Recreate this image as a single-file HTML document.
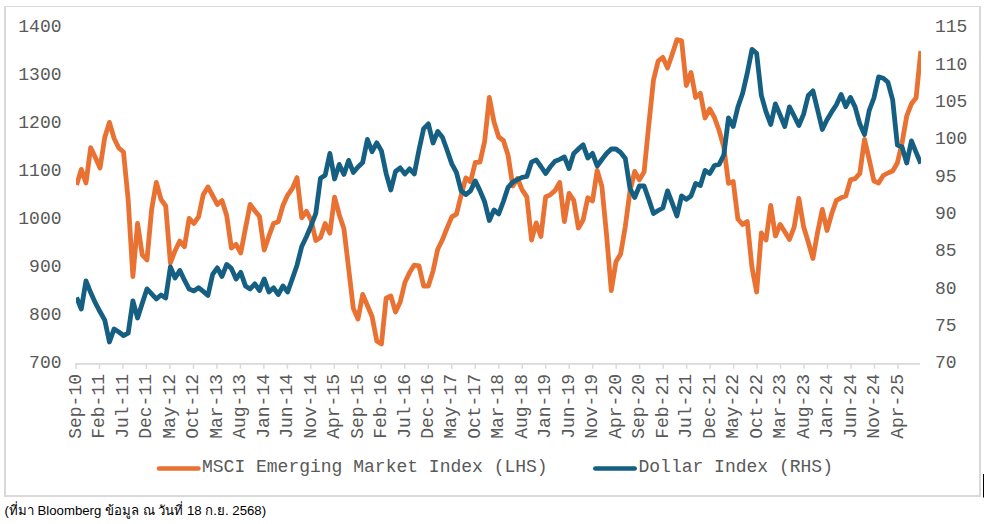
<!DOCTYPE html>
<html><head><meta charset="utf-8"><style>
html,body{margin:0;padding:0;background:#fff;width:986px;height:524px;overflow:hidden}
svg{position:absolute;left:0;top:0}
svg text{font-family:"Liberation Mono",monospace;font-size:18px;fill:#595959}
.note{position:absolute;left:4.5px;top:501.3px;font-family:"Liberation Sans",sans-serif;font-size:13.2px;color:#000;white-space:nowrap;line-height:20px}
</style></head><body>
<svg width="986" height="524" viewBox="0 0 986 524">
<defs><clipPath id="pa"><rect x="76" y="0" width="845" height="400"/></clipPath></defs>
<path d="M4,6H981V497H4Z M6,7H979V495H6Z" fill="#D9D9D9" fill-rule="evenodd"/>
<path d="M75.2,363.9H920.1" stroke="#D9D9D9" stroke-width="1.7" fill="none"/>
<path d="M76.00,363.9V368.8M99.49,363.9V368.8M122.97,363.9V368.8M146.46,363.9V368.8M169.94,363.9V368.8M193.43,363.9V368.8M216.92,363.9V368.8M240.40,363.9V368.8M263.89,363.9V368.8M287.37,363.9V368.8M310.86,363.9V368.8M334.35,363.9V368.8M357.83,363.9V368.8M381.32,363.9V368.8M404.80,363.9V368.8M428.29,363.9V368.8M451.78,363.9V368.8M475.26,363.9V368.8M498.75,363.9V368.8M522.23,363.9V368.8M545.72,363.9V368.8M569.21,363.9V368.8M592.69,363.9V368.8M616.18,363.9V368.8M639.66,363.9V368.8M663.15,363.9V368.8M686.64,363.9V368.8M710.12,363.9V368.8M733.61,363.9V368.8M757.09,363.9V368.8M780.58,363.9V368.8M804.07,363.9V368.8M827.55,363.9V368.8M851.04,363.9V368.8M874.52,363.9V368.8M898.01,363.9V368.8" stroke="#D9D9D9" stroke-width="1.5" fill="none"/>
<text x="61.5" y="31.80" text-anchor="end">1400</text>
<text x="61.5" y="79.80" text-anchor="end">1300</text>
<text x="61.5" y="127.80" text-anchor="end">1200</text>
<text x="61.5" y="175.80" text-anchor="end">1100</text>
<text x="61.5" y="223.80" text-anchor="end">1000</text>
<text x="61.5" y="271.80" text-anchor="end">900</text>
<text x="61.5" y="319.80" text-anchor="end">800</text>
<text x="61.5" y="367.80" text-anchor="end">700</text>
<text x="935" y="32.30">115</text>
<text x="935" y="69.63">110</text>
<text x="935" y="106.97">105</text>
<text x="935" y="144.30">100</text>
<text x="935" y="181.63">95</text>
<text x="935" y="218.96">90</text>
<text x="935" y="256.30">85</text>
<text x="935" y="293.63">80</text>
<text x="935" y="330.96">75</text>
<text x="935" y="368.30">70</text>
<text transform="translate(80.70,374) rotate(-90)" text-anchor="end">Sep-10</text>
<text transform="translate(104.19,374) rotate(-90)" text-anchor="end">Feb-11</text>
<text transform="translate(127.67,374) rotate(-90)" text-anchor="end">Jul-11</text>
<text transform="translate(151.16,374) rotate(-90)" text-anchor="end">Dec-11</text>
<text transform="translate(174.64,374) rotate(-90)" text-anchor="end">May-12</text>
<text transform="translate(198.13,374) rotate(-90)" text-anchor="end">Oct-12</text>
<text transform="translate(221.62,374) rotate(-90)" text-anchor="end">Mar-13</text>
<text transform="translate(245.10,374) rotate(-90)" text-anchor="end">Aug-13</text>
<text transform="translate(268.59,374) rotate(-90)" text-anchor="end">Jan-14</text>
<text transform="translate(292.07,374) rotate(-90)" text-anchor="end">Jun-14</text>
<text transform="translate(315.56,374) rotate(-90)" text-anchor="end">Nov-14</text>
<text transform="translate(339.05,374) rotate(-90)" text-anchor="end">Apr-15</text>
<text transform="translate(362.53,374) rotate(-90)" text-anchor="end">Sep-15</text>
<text transform="translate(386.02,374) rotate(-90)" text-anchor="end">Feb-16</text>
<text transform="translate(409.50,374) rotate(-90)" text-anchor="end">Jul-16</text>
<text transform="translate(432.99,374) rotate(-90)" text-anchor="end">Dec-16</text>
<text transform="translate(456.48,374) rotate(-90)" text-anchor="end">May-17</text>
<text transform="translate(479.96,374) rotate(-90)" text-anchor="end">Oct-17</text>
<text transform="translate(503.45,374) rotate(-90)" text-anchor="end">Mar-18</text>
<text transform="translate(526.93,374) rotate(-90)" text-anchor="end">Aug-18</text>
<text transform="translate(550.42,374) rotate(-90)" text-anchor="end">Jan-19</text>
<text transform="translate(573.91,374) rotate(-90)" text-anchor="end">Jun-19</text>
<text transform="translate(597.39,374) rotate(-90)" text-anchor="end">Nov-19</text>
<text transform="translate(620.88,374) rotate(-90)" text-anchor="end">Apr-20</text>
<text transform="translate(644.36,374) rotate(-90)" text-anchor="end">Sep-20</text>
<text transform="translate(667.85,374) rotate(-90)" text-anchor="end">Feb-21</text>
<text transform="translate(691.34,374) rotate(-90)" text-anchor="end">Jul-21</text>
<text transform="translate(714.82,374) rotate(-90)" text-anchor="end">Dec-21</text>
<text transform="translate(738.31,374) rotate(-90)" text-anchor="end">May-22</text>
<text transform="translate(761.79,374) rotate(-90)" text-anchor="end">Oct-22</text>
<text transform="translate(785.28,374) rotate(-90)" text-anchor="end">Mar-23</text>
<text transform="translate(808.77,374) rotate(-90)" text-anchor="end">Aug-23</text>
<text transform="translate(832.25,374) rotate(-90)" text-anchor="end">Jan-24</text>
<text transform="translate(855.74,374) rotate(-90)" text-anchor="end">Jun-24</text>
<text transform="translate(879.22,374) rotate(-90)" text-anchor="end">Nov-24</text>
<text transform="translate(902.71,374) rotate(-90)" text-anchor="end">Apr-25</text>
<g clip-path="url(#pa)" fill="none" stroke-width="4.8" stroke-linejoin="round" stroke-linecap="butt">
<polyline points="76.60,185.0 81.29,169.4 85.98,183.0 90.67,147.6 95.36,157.5 100.05,168.0 104.74,137.5 109.43,122.4 114.12,138.5 118.81,148.0 123.50,152.0 128.19,200.0 132.88,276.5 137.57,223.4 142.26,254.9 146.95,260.0 151.64,209.5 156.33,182.4 161.02,199.3 165.71,206.0 170.40,263.0 175.09,250.7 179.78,241.1 184.47,246.7 189.16,218.4 193.85,223.5 198.54,216.9 203.23,194.8 207.92,186.9 212.61,195.5 217.30,204.5 221.99,200.5 226.68,215.5 231.37,248.0 236.06,244.4 240.75,253.0 245.44,228.5 250.13,204.4 254.82,210.7 259.51,216.5 264.20,250.0 268.89,236.2 273.58,223.4 278.27,221.7 282.96,205.5 287.65,195.1 292.34,188.5 297.03,177.6 301.72,217.8 306.41,211.3 311.10,220.1 315.79,240.5 320.48,237.4 325.17,223.5 329.86,233.2 334.55,197.2 339.24,214.7 343.93,228.8 348.62,268.2 353.31,308.4 358.00,319.0 362.69,294.4 367.38,305.5 372.07,316.5 376.76,340.9 381.45,344.0 386.14,298.1 390.83,295.9 395.52,312.0 400.21,302.0 404.90,282.5 409.59,272.6 414.28,265.1 418.97,265.9 423.66,286.0 428.35,286.0 433.04,271.1 437.73,249.2 442.42,239.8 447.11,227.9 451.80,216.9 456.49,214.1 461.18,195.0 465.87,177.9 470.56,181.8 475.25,162.5 479.94,162.2 484.63,141.5 489.32,97.4 494.01,122.0 498.70,137.0 503.39,140.5 508.08,155.2 512.77,186.0 517.46,178.4 522.15,189.8 526.84,196.8 531.53,240.0 536.22,222.9 540.91,236.5 545.60,197.0 550.29,194.8 554.98,190.6 559.67,182.4 564.36,221.5 569.05,193.4 573.74,200.3 578.43,228.0 583.12,220.0 587.81,197.8 592.50,201.0 597.19,170.4 601.88,186.4 606.57,235.1 611.26,290.5 615.95,261.8 620.64,253.9 625.33,226.3 630.02,190.9 634.71,171.4 639.40,179.9 644.09,171.9 648.78,125.0 653.47,80.0 658.16,61.2 662.85,57.4 667.54,68.0 672.23,54.2 676.92,39.7 681.61,40.8 686.30,85.5 690.99,72.4 695.68,97.5 700.37,93.4 705.06,118.0 709.75,108.9 714.44,117.5 719.13,130.5 723.82,147.0 728.51,183.4 733.20,181.4 737.89,219.0 742.58,224.5 747.27,221.5 751.96,267.3 756.65,292.0 761.34,233.0 766.03,240.0 770.72,205.4 775.41,236.0 780.10,224.4 784.79,231.8 789.48,239.5 794.17,227.2 798.86,198.4 803.55,226.5 808.24,242.0 812.93,258.5 817.62,232.2 822.31,209.4 827.00,230.5 831.69,213.8 836.38,200.4 841.07,197.8 845.76,196.1 850.45,179.9 855.14,178.7 859.83,173.4 864.52,139.4 869.21,159.5 873.90,181.0 878.59,183.0 883.28,175.5 887.97,173.0 892.66,171.0 897.35,163.0 902.04,143.0 906.73,116.0 911.42,103.8 916.11,97.7 920.80,51.0" stroke="#E97132"/>
<polyline points="76.60,297.5 81.29,309.0 85.98,280.9 90.67,292.6 95.36,302.9 100.05,311.8 104.74,320.1 109.43,342.0 114.12,328.9 118.81,332.0 123.50,335.5 128.19,333.1 132.88,300.9 137.57,318.0 142.26,303.3 146.95,288.9 151.64,293.8 156.33,299.0 161.02,295.0 165.71,298.0 170.40,266.9 175.09,278.0 179.78,270.4 184.47,280.2 189.16,289.1 193.85,290.9 198.54,287.7 203.23,291.4 207.92,295.5 212.61,274.4 217.30,267.9 221.99,276.5 226.68,264.4 231.37,268.4 236.06,279.0 240.75,272.4 245.44,285.9 250.13,289.0 254.82,283.8 259.51,290.5 264.20,278.9 268.89,292.0 273.58,287.8 278.27,294.5 282.96,285.9 287.65,292.0 292.34,278.7 297.03,265.2 301.72,246.5 306.41,236.8 311.10,225.7 315.79,213.5 320.48,178.2 325.17,175.2 329.86,153.4 334.55,179.0 339.24,164.4 343.93,174.4 348.62,160.4 353.31,172.4 358.00,167.0 362.69,162.6 367.38,139.4 372.07,151.7 376.76,142.8 381.45,150.9 386.14,173.6 390.83,190.0 395.52,171.5 400.21,167.9 404.90,174.0 409.59,168.9 414.28,174.0 418.97,150.0 423.66,128.6 428.35,123.9 433.04,143.0 437.73,131.4 442.42,137.3 447.11,150.2 451.80,163.9 456.49,172.7 461.18,190.8 465.87,194.5 470.56,190.8 475.25,180.9 479.94,190.6 484.63,201.8 489.32,220.5 494.01,209.9 498.70,214.0 503.39,201.5 508.08,187.3 512.77,182.2 517.46,179.6 522.15,177.4 526.84,176.5 531.53,162.1 536.22,159.9 540.91,166.5 545.60,173.5 550.29,166.8 554.98,161.3 559.67,159.4 564.36,156.9 569.05,168.5 573.74,153.4 578.43,148.9 583.12,144.9 587.81,158.0 592.50,153.4 597.19,166.0 601.88,159.5 606.57,153.5 611.26,149.0 615.95,149.0 620.64,152.5 625.33,158.5 630.02,188.7 634.71,197.5 639.40,186.0 644.09,186.0 648.78,199.4 653.47,213.5 658.16,210.5 662.85,208.0 667.54,190.9 672.23,203.2 676.92,216.0 681.61,195.9 686.30,199.4 690.99,196.0 695.68,183.4 700.37,185.5 705.06,170.4 709.75,173.5 714.44,165.5 719.13,164.4 723.82,155.0 728.51,117.9 733.20,126.5 737.89,107.0 742.58,93.5 747.27,73.1 751.96,49.4 756.65,53.4 761.34,95.4 766.03,111.8 770.72,124.5 775.41,103.9 780.10,115.0 784.79,126.5 789.48,106.9 794.17,116.0 798.86,125.5 803.55,114.4 808.24,95.5 812.93,90.9 817.62,110.0 822.31,129.5 827.00,119.7 831.69,111.9 836.38,104.7 841.07,94.4 845.76,106.7 850.45,97.4 855.14,107.1 859.83,124.1 864.52,134.5 869.21,110.5 873.90,98.0 878.59,76.9 883.28,78.2 887.97,82.3 892.66,100.0 897.35,145.0 902.04,147.0 906.73,163.0 911.42,140.9 916.11,152.4 920.80,163.5" stroke="#156082"/>
</g>
<path d="M159,468.5H198.5" stroke="#E97132" stroke-width="4.5" stroke-linecap="round"/>
<text x="202" y="471.8">MSCI Emerging Market Index (LHS)</text>
<path d="M595.3,468.5H634.7" stroke="#156082" stroke-width="4.5" stroke-linecap="round"/>
<text x="638.5" y="471.8">Dollar Index (RHS)</text>
<path d="M983.5,474V497.5" stroke="#000" stroke-width="1"/>
</svg>
<div class="note">(ที่มา Bloomberg ข้อมูล ณ วันที่ 18 ก.ย. 2568)</div>
</body></html>
